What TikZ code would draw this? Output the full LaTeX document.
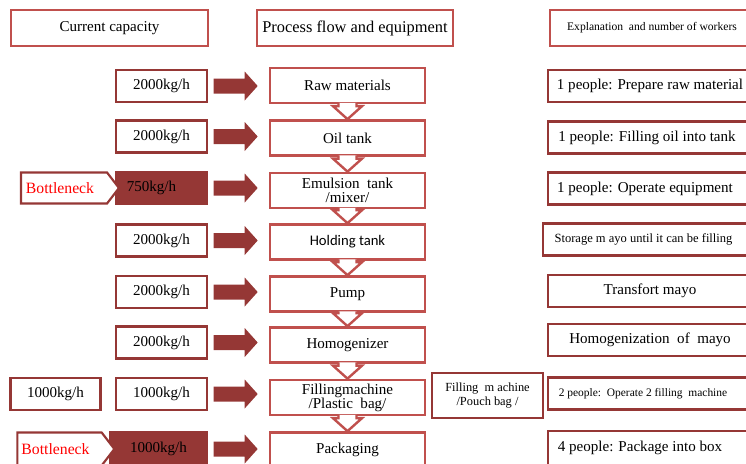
\documentclass[tikz,border=0pt]{standalone}
\usepackage{fontspec}
\setmainfont{Liberation Serif}
\newfontfamily\calib{Carlito}
\usetikzlibrary{calc,arrows.meta,shapes.symbols}
\newdimen\pxu \pxu=0.75pt
\definecolor{pred}{RGB}{192,80,77}
\definecolor{dred}{RGB}{149,55,53}
\definecolor{bred}{RGB}{255,0,0}
\newcommand\fsn{\rmfamily\fontsize{11.3}{12}\selectfont}
\begin{document}
\begin{tikzpicture}[x=0.75pt,y=-0.75pt,
  every node/.style={inner sep=0pt,align=center},
  hdr/.style={draw=pred,line width=2pt,fill=white,minimum height=36\pxu,font=\fsn},
  proc/.style={draw=pred,line width=2pt,fill=white,minimum width=155\pxu,minimum height=35\pxu,font=\fsn},
  capbox/.style={draw=dred,line width=1.6pt,fill=white,minimum width=91\pxu,minimum height=32\pxu,font=\fsn},
  capdark/.style={capbox,fill=dred},
  expl/.style={draw=dred,line width=1.8pt,fill=white,minimum width=204\pxu,minimum height=32\pxu,font=\fsn},
  bneck/.style={signal,signal to=east,signal pointer angle=105,draw=dred,line width=1.6pt,fill=white,
     minimum height=31\pxu,text=bred,font=\rmfamily\fontsize{11.8}{13}\selectfont},
  harrow/.style={draw=none,fill=dred},
  dnarrow/.style={draw=pred,line width=1.8pt,fill=white,line join=miter}
]
\useasboundingbox (0,0) rectangle (746,464);
\begin{scope}
\clip (0,0) rectangle (746,464);
% headers
\node[hdr,minimum width=197\pxu] (h1) at (109.5,28) {Current capacity};
\node[hdr,minimum width=196\pxu,font=\rmfamily\fontsize{12.3}{13}\selectfont] (h2) at (355,28) {Process flow and equipment};
\node[hdr,minimum width=204\pxu,font=\rmfamily\fontsize{8.7}{10}\selectfont] (h3) at (652,28) {Explanation\ \ and number of workers};

% process boxes
\node[proc] (p1) at (347.5,85.5) {Raw materials};
\node[proc] (p2) at (347.5,138) {Oil tank};
\node[proc] (p3) at (347.5,190.5) {Emulsion\ \ tank\\[-1.5pt]/mixer/};
\node[proc,font=\calib\fontsize{11}{12}\selectfont] (p4) at (347.5,242) {Holding tank};
\node[proc] (p5) at (347.5,294) {Pump};
\node[proc] (p6) at (347.5,345) {Homogenizer};
\node[proc] (p7) at (347.5,397.5) {Fillingmachine\\[-1.5pt]/Plastic\ \ bag/};
\node[proc] (p8) at (347.5,450) {Packaging};

% down arrows
\foreach \a/\b in {p1/p2,p2/p3,p3/p4,p4/p5,p5/p6,p6/p7,p7/p8}{
  \filldraw[dnarrow] ($(\a.south)+(-9,-1.5)$) -- ($(\b.north)+(-9,-13)$) -- ($(\b.north)+(-14.5,-13)$)
     -- (\b.north) -- ($(\b.north)+(14.5,-13)$) -- ($(\b.north)+(9,-13)$) -- ($(\a.south)+(9,-1.5)$);
}

% capacity boxes
\node[capbox] (c1) at (161.5,86) {2000kg/h};
\node[capbox] (c2) at (161.5,136.5) {2000kg/h};
\node[capdark] (c3) at (161.5,188) {\hspace*{-20\pxu}750kg/h};
\node[capbox] (c4) at (161.5,240.5) {2000kg/h};
\node[capbox] (c5) at (161.5,292) {2000kg/h};
\node[capbox] (c6) at (161.5,342.5) {2000kg/h};
\node[capbox] (c7) at (161.5,394) {1000kg/h};
\node[capdark,minimum width=97\pxu,minimum height=34\pxu] (c8) at (158.5,449) {1000kg/h};

\node[capbox,minimum width=90\pxu] (l7) at (55.5,394) {1000kg/h};
\node[bneck,minimum width=98\pxu] (b3) at (64,188) {Bottleneck\hspace*{8\pxu}};
\node[bneck,minimum width=97\pxu,minimum height=33\pxu] (b8) at (59.5,449) {Bottleneck\hspace*{8\pxu}};

% horizontal arrows
\foreach \cc/\pp in {c1/p1,c2/p2,c3/p3,c4/p4,c5/p5,c6/p6,c7/p7,c8/p8}{
  \coordinate (s) at ([xshift=5.5\pxu]\cc.east);
  \coordinate (t) at ([xshift=-11\pxu]\pp.west |- s);
  \fill[harrow] ($(s)+(0,-7.5)$) -- ($(t)+(-13,-7.5)$) -- ($(t)+(-13,-14.5)$) -- (t)
     -- ($(t)+(-13,14.5)$) -- ($(t)+(-13,7.5)$) -- ($(s)+(0,7.5)$) -- cycle;
}

% pouch bag box
\node[draw=dred,line width=1.8pt,fill=white,minimum width=111\pxu,minimum height=45\pxu,
  font=\rmfamily\fontsize{9.3}{11}\selectfont] (pb) at (487.5,395.5) {Filling\ \ m achine\\/Pouch bag /};

% explanation boxes
\node[expl] (r1) at (650,86) {1 people: Prepare raw material};
\node[expl] (r2) at (650,137.5) {\hspace*{-6\pxu}1 people: Filling oil into tank};
\node[expl] (r3) at (650,188.5) {\hspace*{-10\pxu}1 people: Operate equipment};
\node[expl,minimum width=209\pxu,font=\rmfamily\fontsize{9.4}{10}\selectfont] (r4) at (647.5,239.5) {\hspace*{-8\pxu}Storage m ayo until it can be filling};
\node[expl] (r5) at (650,291) {Transfort mayo};
\node[expl] (r6) at (650,340) {Homogenization\ \ of\ \ mayo};
\node[expl,font=\rmfamily\fontsize{8.6}{10}\selectfont] (r7) at (650,393.5) {\hspace*{-14\pxu}2 people:\ \ Operate 2 filling\ \ machine};
\node[expl,minimum height=34\pxu] (r8) at (650,448) {\hspace*{-20\pxu}4 people: Package into box};
\end{scope}
\end{tikzpicture}
\end{document}
